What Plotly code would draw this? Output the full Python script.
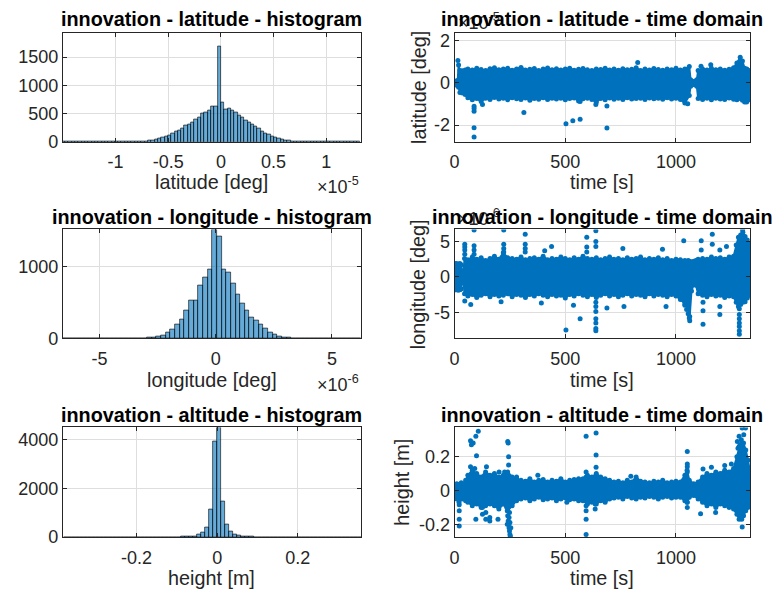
import plotly.graph_objects as go

W, H = 776, 605
FONT = "Liberation Sans"
BLUE = "#0072BD"
BAR_FILL = "rgba(0,114,189,0.6)"
INK = "#262626"
GRID = "#DEDEDE"

# ---------------- histogram data ----------------
# latitude innovation (bin edges in units of 1e-5 deg)
lat_bin_start = -1.512
lat_bin_width = 0.0315
lat_counts = [2, 1, 1, 2, 1, 2, 1, 2, 2, 1, 3, 2, 3, 2, 4, 3, 4, 5, 6, 5, 7, 8, 10, 12, 14,
              17, 23, 35, 46, 63, 75, 92, 115, 144, 179, 208, 242, 294, 317, 352, 392, 433,
              496, 520, 560, 630, 635, 1690,
              705, 575, 585, 565, 530, 470, 433, 387, 352, 317, 271, 231, 190, 156, 127, 104,
              81, 63, 46, 35, 25, 17, 12, 9, 7, 6, 4, 4, 3, 3, 2, 2, 2, 1, 2, 1, 1, 2, 1, 1, 1, 1]

# longitude innovation (bin edges in units of 1e-6 deg)
lon_bin_start = -6.55
lon_bin_width = 0.2
lon_counts = [1, 1, 0, 1, 2, 1, 1, 2, 2, 3, 2, 3, 3, 4, 4,
              5, 6, 8, 12, 18, 27, 45, 86, 127, 200, 268, 391, 527, 527, 732, 845, 968,
              1518, 1427, 968, 923, 764, 609, 482, 395, 300, 245, 200, 140, 91, 55, 32, 18,
              12, 8, 6, 5, 4, 3, 3, 2, 2, 2, 1, 1, 2, 1, 1, 1]

# altitude innovation (bin edges in m)
alt_bin_start = -0.38
alt_bin_width = 0.01
alt_counts = [1, 0, 1, 1, 0, 1, 1, 2, 1, 1, 2, 1, 2, 2, 3, 2, 2, 3, 3, 4, 3, 4, 5, 4, 5, 6, 7, 8, 10, 13,
              15, 20, 40, 94, 200, 400, 1154, 3960,
              4500, 1476, 537, 240, 120, 67, 35, 20, 13,
              10, 8, 7, 6, 5, 5, 4, 4, 3, 3, 3, 2, 2, 2, 2, 1, 2, 1, 1, 1, 1, 2, 1, 1, 1, 0, 1]

# ---------------- time-domain data ----------------
# dense band of samples: upper / lower extent versus time, plus isolated samples
# latitude (units of 1e-5 deg)
lat_band_t = [0, 8, 14, 18, 24, 35, 48,
              60, 80, 100, 120, 140, 160, 180, 200, 220, 240, 260, 280, 300, 320, 340, 360, 380,
              400, 420, 440, 460, 480, 500, 520, 540, 560, 580, 600, 620, 640, 660, 680, 700,
              720, 740, 760, 780, 800, 820, 840, 860, 880, 900, 920, 940, 960, 980, 1000, 1020,
              1040, 1060,
              1066, 1075, 1085, 1094,
              1100, 1120, 1140, 1160, 1180, 1200, 1220, 1240, 1260, 1275, 1290, 1300, 1310, 1320,
              1330, 1334]
lat_band_hi = [0.05, 0.10, 0.12, 0.85, 0.60, 0.58, 0.62,
               0.66, 0.62, 0.70, 0.64, 0.60, 0.68, 0.72, 0.63, 0.66, 0.70,
               0.61, 0.67, 0.74, 0.62, 0.65, 0.69, 0.60, 0.66, 0.71, 0.63,
               0.68, 0.62, 0.66, 0.70, 0.61, 0.65, 0.69, 0.63, 0.60, 0.67,
               0.64, 0.70, 0.62, 0.66, 0.61, 0.68, 0.63, 0.65, 0.72, 0.60,
               0.66, 0.62, 0.69, 0.64, 0.61, 0.67, 0.63, 0.70, 0.62, 0.66, 0.79,
               0.15, 0.08, 0.08, 0.15,
               0.60, 0.66, 0.62, 0.70, 0.63, 0.67, 0.61, 0.65, 0.72, 0.95, 1.22, 1.05, 0.70, 0.66,
               0.60, 0.40]
lat_band_lo = [-0.05, -0.10, -0.12, -0.20, -0.45, -0.48, -0.55,
               -0.70, -0.80, -0.74, -0.88, -0.72, -0.78, -0.69, -0.76, -0.73, -0.80,
               -0.70, -0.75, -0.78, -0.71, -0.82, -0.74, -0.77, -0.70, -0.79, -0.73,
               -0.76, -0.72, -0.80, -0.74, -0.71, -0.86, -0.75, -0.72, -0.78, -0.92,
               -0.74, -0.80, -0.71, -0.77, -0.73, -0.79, -0.70, -0.76, -0.74, -0.72,
               -0.78, -0.71, -0.75, -0.73, -0.77, -0.70, -0.76, -0.72, -0.79, -0.95, -0.60,
               -0.15, -0.08, -0.08, -0.15,
               -0.74, -0.78, -0.72, -0.80, -0.73, -0.76, -0.79, -0.71, -0.77, -0.80, -0.74, -0.82,
               -0.90, -0.78, -0.80, -0.40]
lat_pts_t = [15, 88, 88, 88, 88, 88, 126, 313, 503, 534, 567, 567, 638, 688, 688, 827,
             1113, 1157, 1053, 1319]
lat_pts_v = [1.07, -1.10, -1.21, -1.34, -2.13, -2.57, -1.02, -1.40, -1.94, -1.80, -1.72, -0.88,
             -1.02, -1.09, -2.14, 0.98, 0.80, 0.87, -0.99, -0.90]

# longitude (units of 1e-6 deg)
lon_band_t = [0, 8, 16, 24, 30, 34, 40,
              45, 60, 80, 100, 120, 140, 160, 180, 200, 220, 240, 260, 280, 300, 320, 340, 360,
              380, 400, 420, 440, 460, 480, 500, 520, 540, 560, 580, 600, 620, 640, 660, 680,
              700, 720, 740, 760, 780, 800, 820, 840, 860, 880, 900, 920, 940, 960, 980, 1000,
              1020, 1040,
              1055, 1062, 1070, 1080, 1090, 1100,
              1120, 1140, 1160, 1180, 1200, 1220, 1240, 1260, 1272, 1282, 1292, 1302, 1312, 1322,
              1332, 1336]
lon_band_hi = [1.85, 1.90, 1.80, 1.88, 1.70, 0.60, 0.60,
               2.6, 2.4, 2.8, 2.5, 2.7, 2.3, 2.6, 2.9, 2.5, 3.4,
               2.7, 2.6, 2.5, 2.8, 2.4, 2.6, 2.7, 2.5, 2.9, 2.4,
               2.6, 2.5, 2.8, 2.6, 2.4, 2.7, 2.5, 2.9, 2.6, 2.5,
               2.7, 2.4, 2.6, 2.8, 2.5, 2.6, 2.4, 2.7, 2.5, 2.6,
               2.8, 2.4, 2.6, 2.5, 2.7, 2.4, 2.6, 2.3, 2.5, 2.4, 2.3,
               2.3, 2.2, 2.1, 2.2, 2.3, 2.5,
               2.6, 2.5, 2.8, 2.6, 2.7, 2.5, 2.8, 2.9, 4.5, 5.6, 5.9, 6.3, 5.7, 5.2, 4.6, 2.0]
lon_band_lo = [-1.85, -1.80, -1.90, -1.82, -1.70, -0.60, -0.60,
               -2.4, -2.7, -2.5, -2.9, -2.6, -2.4, -2.8, -2.5, -2.7, -2.6,
               -2.4, -2.8, -2.5, -2.6, -2.9, -2.5, -2.7, -2.4, -2.6, -2.8,
               -2.5, -2.7, -2.6, -3.0, -2.5, -2.7, -2.4, -2.6, -2.8, -2.5,
               -2.9, -2.6, -2.4, -2.7, -2.5, -2.8, -2.6, -2.4, -2.7, -2.5,
               -2.6, -2.8, -2.4, -2.7, -2.5, -2.6, -2.8, -2.5, -2.7, -3.2, -3.8,
               -4.5, -5.6, -2.0, -1.1, -1.2, -2.4,
               -2.6, -2.8, -2.5, -2.7, -2.6, -2.9, -2.7, -2.8, -3.6, -4.2, -3.9, -3.6, -3.5, -3.0,
               -2.6, -1.5]
lon_pts_t = [46, 46, 46, 46, 46, 73, 88, 88, 88, 88,
             210, 222, 222, 222, 222, 319, 319, 319, 319,
             392, 407, 438, 503, 537, 567, 597, 597, 597,
             638, 638, 638, 638, 638, 638, 638, 638, 638, 638,
             688, 760, 765, 939, 955, 1035, 1040, 1048, 1055, 1060, 1062,
             1114, 1114, 1122, 1122, 1122, 1164, 1164, 1198, 1198, 1198, 1228,
             1286, 1286, 1286, 1286, 1286, 1286, 1286, 1301]
lon_pts_v = [4.6, 4.2, 3.8, 3.2, -3.4, -3.9, 6.6, 4.4, 3.8, 3.2,
             -3.5, 6.6, 4.6, 4.0, 3.5, 6.0, 4.6, 4.0, 3.5,
             -3.7, 3.7, 4.3, -7.5, -4.0, -5.9, 5.6, 4.2, 3.5,
             6.5, 5.0, 4.3, -3.6, -4.2, -4.9, -5.9, -6.5, -7.3, -7.6,
             -4.4, 4.0, -4.2, 3.9, -4.2, 5.1, -4.0, -4.6, -5.2, -5.8, -6.2,
             5.1, 3.8, -3.6, -4.8, -6.7, 6.0, 4.6, 3.8, -4.2, -5.3, 4.3,
             -4.5, -5.3, -5.9, -6.5, -7.0, -7.6, -8.1, 6.6]

# altitude (m)
alt_band_t = [0, 10, 20, 30, 40, 50,
              60, 80, 100, 120, 140, 160, 180, 200, 220, 240, 260, 280,
              300, 320, 340, 360, 380, 400, 420, 440, 460, 480, 500, 520, 540, 560,
              580, 600, 620, 640, 660, 680, 700,
              720, 740, 760, 780, 800, 820, 840, 860, 880, 900, 920, 940, 960, 980, 1000,
              1020, 1040, 1050, 1060, 1080, 1100,
              1120, 1140, 1160, 1180, 1200, 1220, 1240, 1260, 1275, 1285, 1295, 1305, 1315, 1325,
              1333, 1336]
alt_band_hi = [0.03, 0.04, 0.035, 0.045, 0.04, 0.06,
               0.09, 0.12, 0.10, 0.08, 0.11, 0.09, 0.10, 0.08, 0.09, 0.11, 0.08, 0.07,
               0.06, 0.055, 0.07, 0.05, 0.06, 0.065, 0.05, 0.06, 0.055, 0.07, 0.05, 0.06, 0.065, 0.07,
               0.07, 0.09, 0.08, 0.10, 0.08, 0.07, 0.06,
               0.05, 0.055, 0.045, 0.06, 0.05, 0.08, 0.055, 0.05, 0.045, 0.055, 0.05, 0.06, 0.045,
               0.05, 0.055,
               0.05, 0.09, 0.12, 0.06, 0.04, 0.05,
               0.08, 0.10, 0.09, 0.11, 0.10, 0.12, 0.11, 0.13, 0.20, 0.26, 0.30, 0.28, 0.24, 0.18,
               0.12, 0.04]
alt_band_lo = [-0.04, -0.05, -0.07, -0.05, -0.05, -0.06,
               -0.07, -0.09, -0.08, -0.10, -0.09, -0.08, -0.09, -0.11, -0.08, -0.12, -0.09, -0.06,
               -0.05, -0.045, -0.06, -0.05, -0.04, -0.055, -0.05, -0.045, -0.06, -0.05, -0.045,
               -0.055, -0.05, -0.06,
               -0.06, -0.08, -0.07, -0.08, -0.06, -0.07, -0.05,
               -0.045, -0.04, -0.05, -0.035, -0.045, -0.05, -0.04, -0.045, -0.035, -0.04, -0.05,
               -0.04, -0.035, -0.045, -0.04,
               -0.04, -0.06, -0.07, -0.04, -0.03, -0.05,
               -0.07, -0.09, -0.08, -0.10, -0.08, -0.09, -0.10, -0.11, -0.14, -0.17, -0.16, -0.15,
               -0.12, -0.10, -0.08, -0.03]
alt_pts_t = [21, 21, 21, 21,
             72, 76, 84, 96, 107, 99, 91, 72,
             96, 126, 126, 141, 141, 159, 159, 144,
             196, 201, 226,
             240, 242, 244, 244, 238, 240, 242, 244, 246, 248, 250, 252, 238, 246, 250, 254, 236, 248,
             280, 376, 507,
             594, 594, 594, 594, 594, 594, 594,
             639, 639, 639, 635, 635,
             796,
             1051, 1051, 1051, 1051, 1051, 1051,
             1111, 1179, 1122, 1160, 1220, 1250,
             1277, 1285, 1299, 1306, 1280, 1294, 1290,
             1299, 1290, 1297, 1314]
alt_pts_v = [-0.084, -0.12, -0.17, -0.21,
             0.294, 0.27, 0.28, 0.32, 0.35, 0.206, 0.13, 0.14,
             -0.17, -0.10, -0.14, -0.13, -0.17, -0.16, -0.18, 0.14,
             -0.17, 0.11, 0.11,
             0.29, 0.28, 0.20, 0.15, -0.12, -0.15, -0.18, -0.20, -0.22, -0.24, -0.26, -0.27, -0.20,
             -0.16, -0.19, -0.22, -0.10, -0.13,
             0.08, 0.09, -0.07,
             0.32, 0.11, 0.08, -0.09, -0.12, -0.17, -0.26,
             0.34, 0.21, 0.137, -0.08, -0.11,
             0.084,
             0.23, 0.157, 0.14, 0.11, -0.07, -0.10,
             -0.137, -0.13, 0.127, 0.137, 0.147, 0.157,
             0.29, 0.32, 0.37, 0.33, 0.25, 0.22, 0.27,
             -0.216, -0.15, -0.17, 0.37]

for a, b in [(lat_band_t, lat_band_hi), (lat_band_t, lat_band_lo), (lon_band_t, lon_band_hi),
             (lon_band_t, lon_band_lo), (alt_band_t, alt_band_hi), (alt_band_t, alt_band_lo),
             (lat_pts_t, lat_pts_v), (lon_pts_t, lon_pts_v), (alt_pts_t, alt_pts_v)]:
    assert len(a) == len(b), (len(a), len(b))

fig = go.Figure()


def hist_trace(start, width, counts, ax):
    centers = [start + (i + 0.5) * width for i in range(len(counts))]
    return go.Bar(x=centers, y=counts, width=width, xaxis="x" + ax, yaxis="y" + ax,
                  marker=dict(color=BAR_FILL, line=dict(color="#000000", width=0.6)),
                  hoverinfo="x+y")


def band_trace(t, hi, lo, ax):
    xs = list(t) + list(t)[::-1] + [t[0]]
    ys = list(hi) + list(lo)[::-1] + [hi[0]]
    return go.Scatter(x=xs, y=ys, fill="toself", fillcolor=BLUE, mode="lines+markers",
                      line=dict(color=BLUE, width=2), marker=dict(color=BLUE, size=5),
                      xaxis="x" + ax, yaxis="y" + ax, hoverinfo="skip")


def pts_trace(t, v, ax):
    return go.Scatter(x=t, y=v, mode="markers", marker=dict(color=BLUE, size=5),
                      xaxis="x" + ax, yaxis="y" + ax)


fig.add_trace(hist_trace(lat_bin_start, lat_bin_width, lat_counts, ""))
fig.add_trace(band_trace(lat_band_t, lat_band_hi, lat_band_lo, "2"))
fig.add_trace(pts_trace(lat_pts_t, lat_pts_v, "2"))
fig.add_trace(hist_trace(lon_bin_start, lon_bin_width, lon_counts, "3"))
fig.add_trace(band_trace(lon_band_t, lon_band_hi, lon_band_lo, "4"))
fig.add_trace(pts_trace(lon_pts_t, lon_pts_v, "4"))
fig.add_trace(hist_trace(alt_bin_start, alt_bin_width, alt_counts, "5"))
fig.add_trace(band_trace(alt_band_t, alt_band_hi, alt_band_lo, "6"))
fig.add_trace(pts_trace(alt_pts_t, alt_pts_v, "6"))


def px_x(px):
    return px / W


def px_y(py):
    return 1 - py / H


LEFT = [px_x(58.3), px_x(358.3)]
RIGHT = [px_x(452.5), px_x(750)]
ROWS = [[px_y(142.7), px_y(32)], [px_y(343.3), px_y(232)], [px_y(546), px_y(434)]]


def axis(domain, rng, vals, texts, anchor, standoff=0):
    return dict(domain=domain, range=rng, tickvals=vals, ticktext=texts, anchor=anchor,
                showgrid=True, gridcolor=GRID, gridwidth=1, zeroline=False,
                showline=True, linecolor=INK, linewidth=1, mirror="ticks",
                ticks="inside", ticklen=4, tickcolor=INK, tickwidth=1,
                ticklabelstandoff=standoff,
                tickfont=dict(family=FONT, size=18, color=INK), fixedrange=True)


time_vals = [0, 500, 1000]
time_txt = ["0", "500", "1000"]
time_rng = [0, 1335]
XS = 4  # extra gap under the horizontal tick labels

fig.update_layout(
    xaxis=axis(LEFT, [-1.5, 1.33], [-1, -0.5, 0, 0.5, 1], ["-1", "-0.5", "0", "0.5", "1"], "y", XS),
    yaxis=axis(ROWS[0], [0, 1920], [0, 500, 1000, 1500], ["0", "500", "1000", "1500"], "x"),
    xaxis2=axis(RIGHT, time_rng, time_vals, time_txt, "y2", XS),
    yaxis2=axis(ROWS[0], [-2.8, 2.36], [-2, 0, 2], ["-2", "0", "2"], "x2"),
    xaxis3=axis(LEFT, [-6.57, 6.25], [-5, 0, 5], ["-5", "0", "5"], "y3", XS),
    yaxis3=axis(ROWS[1], [0, 1518], [0, 1000], ["0", "1000"], "x3"),
    xaxis4=axis(RIGHT, time_rng, time_vals, time_txt, "y4", XS),
    yaxis4=axis(ROWS[1], [-8.7, 6.7], [-5, 0, 5], ["-5", "0", "5"], "x4"),
    xaxis5=axis(LEFT, [-0.383, 0.357], [-0.2, 0, 0.2], ["-0.2", "0", "0.2"], "y5", XS),
    yaxis5=axis(ROWS[2], [0, 4516], [0, 2000, 4000], ["0", "2000", "4000"], "x5"),
    xaxis6=axis(RIGHT, time_rng, time_vals, time_txt, "y6", XS),
    yaxis6=axis(ROWS[2], [-0.276, 0.373], [-0.2, 0, 0.2], ["-0.2", "0", "0.2"], "x6"),
    width=W, height=H, margin=dict(l=0, r=0, t=0, b=0),
    paper_bgcolor="white", plot_bgcolor="white", showlegend=False,
    bargap=0, font=dict(family=FONT, color=INK),
)

annotations = []


def text(s, x, y, size=19.8, bold=False, color=INK, xanchor="center", angle=0):
    annotations.append(dict(text=("<b>%s</b>" % s) if bold else s, x=px_x(x), y=px_y(y),
                            xref="paper", yref="paper", showarrow=False, xanchor=xanchor,
                            yanchor="middle", textangle=angle,
                            font=dict(family=FONT, size=size, color=color)))


# exponent labels (drawn first so that titles sit on top)
text("×10<sup>-5</sup>", 358, 187, size=18, xanchor="right")
text("×10<sup>-6</sup>", 358, 389, size=18, xanchor="right")
text("×10<sup>-5</sup>", 454, 20, size=18, xanchor="left")
text("×10<sup>-6</sup>", 454, 220, size=18, xanchor="left")

# titles
cl = (58.3 + 358.3) / 2
cr = (452.5 + 750) / 2
text("innovation - latitude - histogram", cl, 17, bold=True, color="#000000")
text("innovation - latitude - time domain", cr, 17, bold=True, color="#000000")
text("innovation - longitude - histogram", cl, 219, bold=True, color="#000000")
text("innovation - longitude - time domain", cr, 219, bold=True, color="#000000")
text("innovation - altitude - histogram", cl, 421, bold=True, color="#000000")
text("innovation - altitude - time domain", cr, 421, bold=True, color="#000000")

# axis labels
text("latitude [deg]", cl, 184)
text("time [s]", cr, 184)
text("longitude [deg]", cl, 386)
text("time [s]", cr, 386)
text("height [m]", cl, 588)
text("time [s]", cr, 588)
text("latitude [deg]", 416, (32 + 142.7) / 2, angle=-90)
text("longitude [deg]", 416, (232 + 343.3) / 2, angle=-90)
text("height [m]", 400, (434 + 546) / 2, angle=-90)

fig.update_layout(annotations=annotations)
fig.write_html("out.html")
